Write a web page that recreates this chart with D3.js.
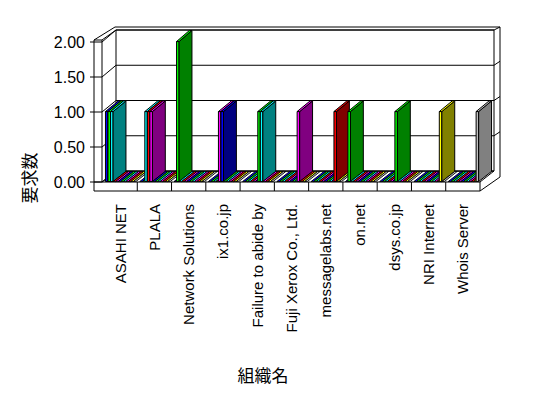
<!doctype html>
<html lang="ja">
<head>
  <meta charset="utf-8">
  <title>要求数</title>
  <script src="https://cdn.jsdelivr.net/npm/d3@7"></script>
  <style>
    body { margin: 0; background: #fff; }
  </style>
</head>
<body>
  <div id="chart"></div>
  <script type="text/javascript">

    // categories on the x axis
    var categories = ['ASAHI NET', 'PLALA', 'Network Solutions', 'ix1.co.jp', 'Failure to abide by',
                      'Fuji Xerox Co., Ltd.', 'messagelabs.net', 'on.net', 'dsys.co.jp', 'NRI Internet', 'Whois Server'];

    // series (side by side inside each category), values per category
    var seriesNames = ['系列1', '系列2', '系列3', '系列4', '系列5', '系列6',
                       '系列7', '系列8', '系列9', '系列10', '系列11', '系列12'];
    var s1  = [1, 0, 0, 0, 0, 0, 0, 0, 0, 0, 0];
    var s2  = [1, 0, 2, 0, 0, 0, 0, 1, 0, 0, 0];
    var s3  = [1, 1, 0, 0, 0, 0, 0, 0, 0, 0, 0];
    var s4  = [0, 1, 0, 0, 0, 0, 0, 0, 0, 0, 0];
    var s5  = [0, 1, 0, 1, 0, 0, 0, 0, 0, 0, 0];
    var s6  = [0, 0, 0, 1, 0, 0, 0, 0, 0, 0, 0];
    var s7  = [0, 0, 0, 0, 1, 0, 0, 0, 1, 0, 0];
    var s8  = [0, 0, 0, 0, 1, 0, 0, 0, 0, 0, 0];
    var s9  = [0, 0, 0, 0, 0, 1, 0, 0, 0, 0, 0];
    var s10 = [0, 0, 0, 0, 0, 0, 1, 0, 0, 0, 0];
    var s11 = [0, 0, 0, 0, 0, 0, 0, 0, 0, 1, 0];
    var s12 = [0, 0, 0, 0, 0, 0, 0, 0, 0, 0, 1];
    var seriesValues = [s1, s2, s3, s4, s5, s6, s7, s8, s9, s10, s11, s12];

    var valueTicks = [0, 0.5, 1, 1.5, 2];

    // lit (front / top) and shaded (side) colour of each series
    var frontColors = ['#0000ff', '#00ff00', '#00ffff', '#ff0000', '#ff00ff', '#0000ff',
                       '#00ff00', '#00ffff', '#ff00ff', '#ff0000', '#ffff00', '#c0c0c0'];
    var sideColors  = ['#000080', '#008000', '#008080', '#800000', '#800080', '#000080',
                       '#008000', '#008080', '#800080', '#800000', '#808000', '#808080'];

    var width = 548, height = 398;
    var depthX = 14;   // how far the back of the floor is shifted right

    var svg = d3.select('#chart').append('svg')
                .attr('width', width)
                .attr('height', height);

    var x0 = d3.scaleBand().domain(categories).range([103, 480]);
    var x1 = d3.scaleBand().domain(seriesNames).range([0, x0.bandwidth()]).paddingOuter(0.75);
    var yFront = d3.scaleLinear().domain([0, 2]).range([182, 42]);
    var yBack  = d3.scaleLinear().domain([0, 2]).range([171, 30]);

    // x at the front plane, value, depth 0..1  ->  screen point
    function pt(x, v, t) {
      return [x + depthX * t, yFront(v) * (1 - t) + yBack(v) * t];
    }
    function poly(g, pts, fill, sw) {
      g.append('polygon')
        .attr('points', pts.map(function(p) { return p.join(','); }).join(' '))
        .attr('fill', fill)
        .attr('stroke', '#000')
        .attr('stroke-width', sw || 1)
        .attr('stroke-linejoin', 'round');
    }
    function line(g, a, b) {
      g.append('line')
        .attr('x1', a[0]).attr('y1', a[1])
        .attr('x2', b[0]).attr('y2', b[1])
        .attr('stroke', '#000').attr('stroke-width', 1);
    }

    var frame = svg.append('g');

    // walls and floor
    poly(frame, [[115, 27], [500, 27], [500, 177], [480, 191], [94, 191], [94, 40]], '#fff');
    poly(frame, [pt(102, 0, 0), pt(480, 0, 0), pt(480, 0, 1), pt(102, 0, 1)], '#fff');
    poly(frame, [pt(102, 0, 1), pt(480, 0, 1), pt(480, 2, 1), pt(102, 2, 1)], '#fff');
    line(frame, [102, 40], [102, 182]);
    line(frame, [94, 40], [102, 40]);
    line(frame, [102, 40], pt(102, 2, 1));
    line(frame, pt(480, 2, 1), [500, 27]);
    line(frame, [94, 182], [102, 182]);
    line(frame, [480, 182], [480, 191]);

    // gridlines on back wall, left wall and the wall edge
    valueTicks.forEach(function(v) {
      line(frame, pt(102, v, 0), pt(102, v, 1));
      line(frame, pt(102, v, 1), pt(480, v, 1));
      line(frame, [90, yFront(v)], [102, yFront(v)]);
      if (v > 0 && v < 2) line(frame, pt(480, v, 1), [500, yBack(v) - 4]);
    });

    // category ticks on the front of the floor
    categories.forEach(function(c, i) {
      if (i > 0) line(frame, [x0(c), 182], [x0(c), 191]);
    });

    // value labels
    svg.append('g').selectAll('text')
      .data(valueTicks)
      .enter().append('text')
      .attr('x', 85)
      .attr('y', function(d) { return yFront(d); })
      .attr('dy', '0.36em')
      .attr('text-anchor', 'end')
      .style('font-family', 'Liberation Sans, Arial, sans-serif')
      .style('font-size', '16px')
      .text(function(d) { return d3.format('.2f')(d); });

    // category labels
    svg.append('g').selectAll('text')
      .data(categories)
      .enter().append('text')
      .attr('transform', function(d) {
        return 'translate(' + (x0(d) + x0.bandwidth() / 2) + ',204) rotate(-90)';
      })
      .attr('dy', '0.36em')
      .attr('text-anchor', 'end')
      .style('font-family', 'Liberation Sans, Arial, sans-serif')
      .style('font-size', '15px')
      .text(function(d) { return d; });

    // bars: drawn left to right so the nearer right-hand faces cover the others
    var t0 = 0.04, t1 = 0.96;
    var bars = svg.append('g');
    categories.forEach(function(c, ci) {
      seriesNames.forEach(function(s, si) {
        var v = seriesValues[si][ci];
        var xa = x0(c) + x1(s), xb = xa + x1.bandwidth();
        var g = bars.append('g');
        if (v > 0) {
          poly(g, [pt(xa, 0, t0), pt(xb, 0, t0), pt(xb, v, t0), pt(xa, v, t0)], frontColors[si]);
          poly(g, [pt(xb, 0, t0), pt(xb, 0, t1), pt(xb, v, t1), pt(xb, v, t0)], sideColors[si]);
        }
        poly(g, [pt(xa, v, t0), pt(xb, v, t0), pt(xb, v, t1), pt(xa, v, t1)], frontColors[si], v > 0 ? 1 : 0.9);
      });
    });

    // axis titles
    svg.append('text')
      .attr('transform', 'translate(30,178) rotate(-90)')
      .attr('dy', '0.36em')
      .attr('text-anchor', 'middle')
      .style('font-family', 'Noto Sans CJK JP, sans-serif')
      .style('font-size', '17px')
      .text('要求数');

    svg.append('text')
      .attr('x', 263)
      .attr('y', 376)
      .attr('dy', '0.36em')
      .attr('text-anchor', 'middle')
      .style('font-family', 'Noto Sans CJK JP, sans-serif')
      .style('font-size', '17px')
      .text('組織名');

  </script>
</body>
</html>
